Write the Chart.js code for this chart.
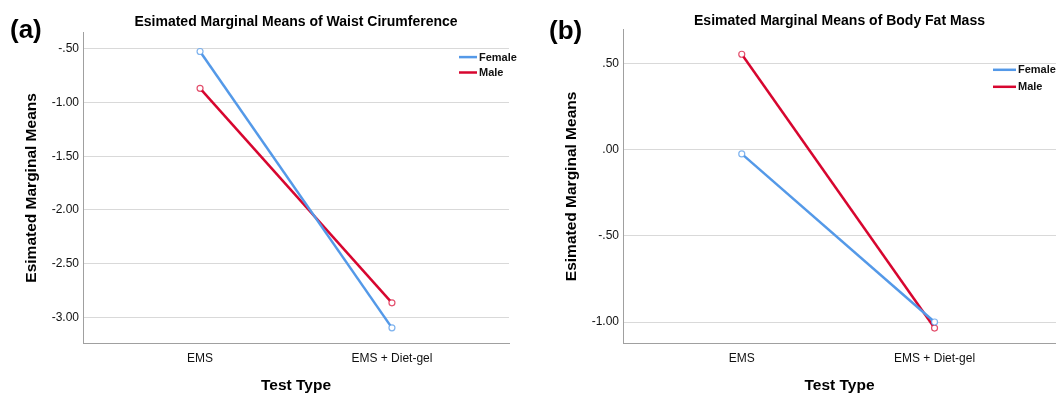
<!DOCTYPE html>
<html>
<head>
<meta charset="utf-8">
<script src="https://cdn.jsdelivr.net/npm/chart.js@4.4.1/dist/chart.umd.min.js"></script>
<style>
  html, body { margin: 0; padding: 0; background: #fff; }
  body { width: 1056px; height: 393px; position: relative; overflow: hidden; font-family: "Liberation Sans", Arial, sans-serif; }
  .panel { position: absolute; top: 0; height: 393px; }
  .tag { position: absolute; font-weight: bold; font-size: 26px; line-height: 26px; color: #000; }
</style>
</head>
<body>
<div class="panel" style="left:0;width:520px"><canvas id="chartA"></canvas></div>
<div class="panel" style="left:530px;width:526px"><canvas id="chartB"></canvas></div>
<div class="tag" style="left:10px;top:16px">(a)</div>
<div class="tag" style="left:549px;top:17px">(b)</div>
<script>
const categories = ['EMS', 'EMS + Diet-gel'];
const seriesNames = ['Female', 'Male'];

// (a) waist circumference
const waistFemale = [-0.524, -3.099];
const waistMale = [-0.867, -2.866];
const waistTicks = [-3.0, -2.5, -2.0, -1.5, -1.0, -0.5];

// (b) body fat mass
const fatFemale = [-0.023, -1.000];
const fatMale = [0.556, -1.035];
const fatTicks = [-1.0, -0.5, 0.0, 0.5];

const BLUE = '#5499e8';
const RED = '#d7062f';
const AXIS = '#a0a0a0';
const FONT = '"Liberation Sans", Arial, sans-serif';

Chart.defaults.font.family = FONT;

// SPSS style: -.50, .00, -1.00
const fmt = (v) => (v < 0 ? '-' : '') + Math.abs(v).toFixed(2).replace(/^0/, '');

// legend drawn inside the plot, near the top right corner
const insideLegend = {
  id: 'insideLegend',
  afterDatasetsDraw(chart, args, opts) {
    const { ctx, chartArea } = chart;
    ctx.save();
    ctx.font = 'bold 11px ' + FONT;
    ctx.textBaseline = 'middle';
    chart.data.datasets.forEach((ds, i) => {
      const x = chartArea.right - opts.right;
      const y = chartArea.top + opts.top + i * opts.gap;
      ctx.strokeStyle = ds.borderColor;
      ctx.lineWidth = 2.5;
      ctx.beginPath();
      ctx.moveTo(x, y);
      ctx.lineTo(x + opts.len, y);
      ctx.stroke();
      ctx.fillStyle = '#111';
      ctx.fillText(ds.label, x + opts.len + 2, y + 0.5);
    });
    ctx.restore();
  }
};

const series = (label, values, color, marker) => ({
  label,
  data: values.map((v, i) => ({ x: i, y: v })),
  borderColor: color,
  borderWidth: 2.5,
  tension: 0,
  pointRadius: 3,
  pointHoverRadius: 3,
  pointBorderWidth: 1.2,
  pointBorderColor: marker,
  pointBackgroundColor: '#fff'
});

const makeChart = (id, cfg) => {
  const ctx = document.getElementById(id).getContext('2d');
  return new Chart(ctx, {
    type: 'line',
    data: {
      datasets: [
        series(seriesNames[0], cfg.female, BLUE, 'rgba(84,153,232,0.75)'),
        series(seriesNames[1], cfg.male, RED, 'rgba(215,6,47,0.7)')
      ]
    },
    plugins: [insideLegend],
    options: {
      responsive: true,
      maintainAspectRatio: false,
      animation: false,
      events: [],
      layout: { autoPadding: false, padding: { left: cfg.padLeft, right: cfg.padRight, top: 0, bottom: 0 } },
      plugins: {
        legend: { display: false },
        tooltip: { enabled: false },
        title: {
          display: true,
          fullSize: false,
          text: cfg.title,
          color: '#000',
          font: { size: 14, weight: 'bold' },
          padding: { top: cfg.titleTop, bottom: cfg.titleBottom }
        },
        insideLegend: cfg.legend
      },
      scales: {
        x: {
          type: 'linear',
          min: cfg.xMin,
          max: cfg.xMax,
          afterBuildTicks: (s) => { s.ticks = categories.map((c, i) => ({ value: i })); },
          afterFit: (s) => { s.height = 50; },
          grid: { display: false, drawTicks: false },
          border: { display: true, color: AXIS, width: 1 },
          ticks: {
            callback: (v) => categories[v],
            padding: 8,
            color: '#111',
            font: { size: 12 },
            maxRotation: 0,
            autoSkip: false
          },
          title: {
            display: true,
            text: 'Test Type',
            color: '#000',
            font: { size: 15.5, weight: 'bold', lineHeight: 1.0 },
            padding: { top: 0, bottom: 0 }
          }
        },
        y: {
          min: cfg.yMin,
          max: cfg.yMax,
          afterBuildTicks: (s) => { s.ticks = cfg.ticks.map((v) => ({ value: v })); },
          afterFit: (s) => { s.width = cfg.yWidth; },
          grid: { color: '#d9d9d9', lineWidth: 1, drawTicks: false },
          border: { display: true, color: AXIS, width: 1 },
          ticks: { callback: fmt, padding: 4, color: '#111', font: { size: 12 } },
          title: {
            display: true,
            text: 'Esimated Marginal Means',
            color: '#000',
            font: { size: 15.5, weight: 'bold' },
            padding: { top: 4, bottom: 0 }
          }
        }
      }
    }
  });
};

makeChart('chartA', {
  title: 'Esimated Marginal Means of Waist Cirumference',
  female: waistFemale,
  male: waistMale,
  ticks: waistTicks,
  yMin: -3.24,
  yMax: -0.35,
  xMin: -0.61,
  xMax: 1.61,
  padLeft: 18,
  padRight: 11,
  yWidth: 65,
  titleTop: 13.5,
  titleBottom: 2.5,
  legend: { right: 50, top: 24.3, gap: 15.4, len: 18 }
});

makeChart('chartB', {
  title: 'Esimated Marginal Means of Body Fat Mass',
  female: fatFemale,
  male: fatMale,
  ticks: fatTicks,
  yMin: -1.122,
  yMax: 0.698,
  xMin: -0.616,
  xMax: 1.63,
  padLeft: 28,
  padRight: 0,
  yWidth: 65,
  titleTop: 13,
  titleBottom: 0,
  legend: { right: 63, top: 40, gap: 17, len: 23 }
});
</script>
</body>
</html>
